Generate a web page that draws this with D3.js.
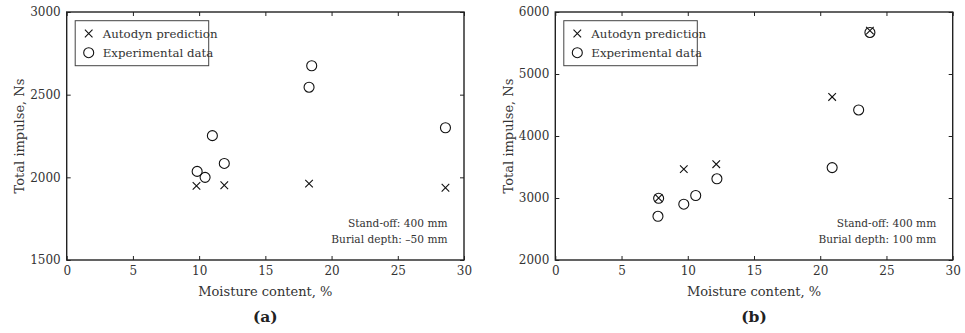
<!DOCTYPE html>
<html>
<head>
<meta charset="utf-8">
<script src="https://cdn.jsdelivr.net/npm/d3@7"></script>
<style>
  html, body { margin: 0; padding: 0; background: #fff; }
  svg { display: block; }
</style>
</head>
<body>
<svg id="chart" width="965" height="333"></svg>
<script>
// Panel (a): stand-off 400 mm, burial depth -50 mm
const moistureA_pred = [9.8, 11.9, 18.3, 28.6];
const impulseA_pred  = [1948, 1952, 1962, 1937];
const moistureA_exp  = [9.85, 10.45, 11.0, 11.9, 18.3, 18.5, 28.6];
const impulseA_exp   = [2036, 2000, 2252, 2084, 2545, 2675, 2300];
const yTicksA = [1500, 2000, 2500, 3000];

// Panel (b): stand-off 400 mm, burial depth 100 mm
const moistureB_pred = [7.8, 9.7, 12.15, 20.9, 23.75];
const impulseB_pred  = [3000, 3465, 3545, 4630, 5700];
const moistureB_exp  = [7.75, 7.8, 9.7, 10.6, 12.2, 20.9, 22.9, 23.75];
const impulseB_exp   = [2705, 2995, 2900, 3040, 3310, 3490, 4420, 5670];
const yTicksB = [2000, 3000, 4000, 5000, 6000];

const xTicks = [0, 5, 10, 15, 20, 25, 30];
const legendLabels = ["Autodyn prediction", "Experimental data"];

const FONT = "'DejaVu Serif', serif";
const AXIS = "#222";
const TXT = "#333";

const svg = d3.select("#chart");

function drawPanel(opt) {
  const g = svg.append("g");
  const x = d3.scaleLinear().domain([0, 30]).range([opt.left, opt.right]);
  const y = d3.scaleLinear().domain(opt.yDomain).range([opt.bottom, opt.top]);

  // inward ticks on all four sides
  const tk = 4;
  g.append("g").attr("transform", `translate(0,${opt.bottom})`)
    .call(d3.axisBottom(x).tickValues(xTicks).tickSize(-tk).tickPadding(6).tickFormat(d3.format("d")))
    .call(s => s.select(".domain").remove());
  g.append("g").attr("transform", `translate(0,${opt.top})`)
    .call(d3.axisTop(x).tickValues(xTicks).tickSize(-tk).tickFormat(""))
    .call(s => s.select(".domain").remove());
  g.append("g").attr("transform", `translate(${opt.left},0)`)
    .call(d3.axisLeft(y).tickValues(opt.yTicks).tickSize(-tk).tickPadding(6).tickFormat(d3.format("d")))
    .call(s => s.select(".domain").remove());
  g.append("g").attr("transform", `translate(${opt.right},0)`)
    .call(d3.axisRight(y).tickValues(opt.yTicks).tickSize(-tk).tickFormat(""))
    .call(s => s.select(".domain").remove());

  g.selectAll(".tick line").attr("stroke", AXIS).attr("stroke-width", 1);
  g.selectAll(".tick text").attr("font-family", FONT).attr("font-size", 12)
    .attr("fill", TXT);

  // frame
  g.append("rect")
    .attr("x", opt.left).attr("y", opt.top)
    .attr("width", opt.right - opt.left).attr("height", opt.bottom - opt.top)
    .attr("fill", "none").attr("stroke", AXIS).attr("stroke-width", 1.4);

  // experimental circles
  const expPts = opt.xe.map((v, i) => [v, opt.ye[i]]);
  g.append("g").selectAll("circle").data(expPts).join("circle")
    .attr("cx", d => x(d[0])).attr("cy", d => y(d[1])).attr("r", 5)
    .attr("fill", "none").attr("stroke", "#111").attr("stroke-width", 1.1);

  // predicted crosses
  const s = 3.8;
  const predPts = opt.xp.map((v, i) => [v, opt.yp[i]]);
  g.append("g").selectAll("path").data(predPts).join("path")
    .attr("d", d => {
      const cx = x(d[0]), cy = y(d[1]);
      return `M${cx - s},${cy - s}L${cx + s},${cy + s}M${cx - s},${cy + s}L${cx + s},${cy - s}`;
    })
    .attr("stroke", "#111").attr("stroke-width", 1.1).attr("fill", "none");

  // legend
  const lx = opt.left + 8.5, ly = opt.top + 8.7;
  g.append("rect").attr("x", lx).attr("y", ly).attr("width", 133.5).attr("height", 45)
    .attr("fill", "#fff").attr("stroke", "#444").attr("stroke-width", 1);
  const mx = lx + 13.5;
  const r1 = ly + 12.8, r2 = ly + 32;
  g.append("path")
    .attr("d", `M${mx - s},${r1 - s}L${mx + s},${r1 + s}M${mx - s},${r1 + s}L${mx + s},${r1 - s}`)
    .attr("stroke", "#111").attr("stroke-width", 1.1);
  g.append("circle").attr("cx", mx).attr("cy", r2).attr("r", 5)
    .attr("fill", "none").attr("stroke", "#111").attr("stroke-width", 1.1);
  legendLabels.forEach((t, i) => {
    g.append("text").attr("x", lx + 27.5).attr("y", [r1, r2][i])
      .attr("dy", "0.35em").attr("font-family", FONT).attr("font-size", 11.8)
      .attr("fill", TXT).text(t);
  });

  // annotation
  opt.note.forEach((t, i) => {
    g.append("text").attr("x", opt.right - 16.5).attr("y", opt.bottom - 36.7 + i * 16)
      .attr("dy", "0.35em").attr("text-anchor", "end")
      .attr("font-family", FONT).attr("font-size", 10.6).attr("fill", TXT).text(t);
  });

  // axis titles
  const cx = (opt.left + opt.right) / 2;
  g.append("text").attr("x", cx).attr("y", 291).attr("dy", "0.35em")
    .attr("text-anchor", "middle").attr("font-family", FONT).attr("font-size", 13)
    .attr("fill", TXT).text("Moisture content, %");
  g.append("text")
    .attr("transform", `translate(${opt.left - 47},${(opt.top + opt.bottom) / 2}) rotate(-90)`)
    .attr("dy", "0.35em").attr("text-anchor", "middle")
    .attr("font-family", FONT).attr("font-size", 13).attr("fill", TXT)
    .text("Total impulse, Ns");
  g.append("text").attr("x", cx).attr("y", 317).attr("dy", "0.35em")
    .attr("text-anchor", "middle").attr("font-family", FONT).attr("font-size", 15.5)
    .attr("font-weight", "bold").attr("fill", "#222").text(opt.tag);
}

drawPanel({
  left: 66.7, right: 464, top: 12, bottom: 260,
  yDomain: [1500, 3000], yTicks: yTicksA,
  xp: moistureA_pred, yp: impulseA_pred, xe: moistureA_exp, ye: impulseA_exp,
  note: ["Stand-off: 400 mm", "Burial depth: \u201350 mm"], tag: "(a)"
});

drawPanel({
  left: 555.3, right: 952.7, top: 12, bottom: 260,
  yDomain: [2000, 6000], yTicks: yTicksB,
  xp: moistureB_pred, yp: impulseB_pred, xe: moistureB_exp, ye: impulseB_exp,
  note: ["Stand-off: 400 mm", "Burial depth: 100 mm"], tag: "(b)"
});
</script>
</body>
</html>
